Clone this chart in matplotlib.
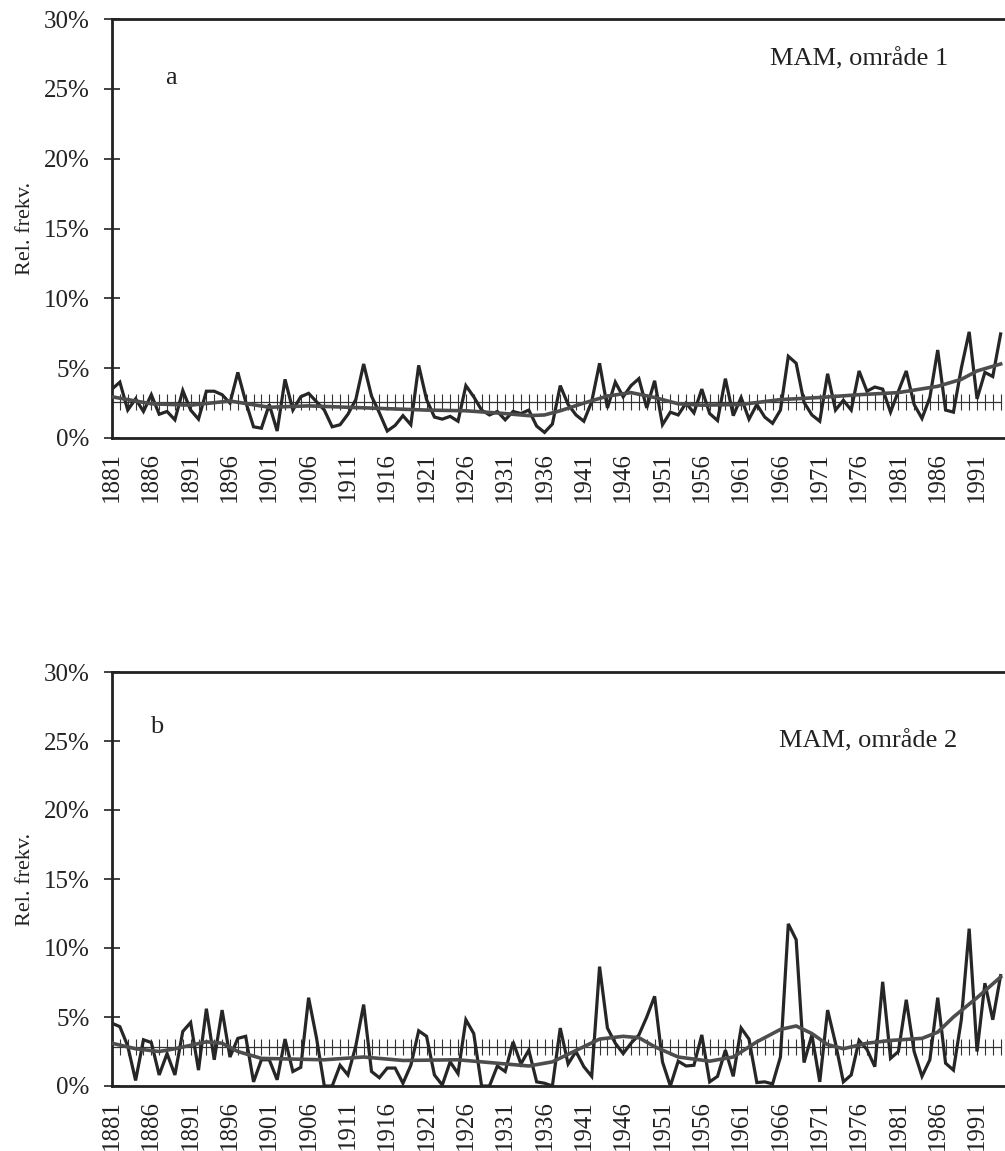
import matplotlib.pyplot as plt
import numpy as np

plt.rcParams['font.family'] = ['Liberation Serif', 'DejaVu Serif']

# years shown on the axis
years = list(range(1881, 1995))
tick_years = list(range(1881, 1992, 5))

# panel a: MAM, område 1 (relative frequency, %)
freq_a = [3.5, 4.0, 2.0, 2.8, 1.9, 3.1, 1.7, 1.9, 1.3, 3.4,
          2.0, 1.35, 3.35, 3.35, 3.1, 2.5, 4.7, 2.6, 0.8, 0.7,
          2.4, 0.5, 4.2, 2.0, 2.95, 3.2, 2.6, 2.0, 0.8, 0.95,
          1.7, 2.75, 5.3, 3.0, 1.8, 0.5, 0.9, 1.6, 0.95, 5.2,
          2.75, 1.5, 1.35, 1.55, 1.2, 3.75, 2.95, 2.0, 1.65, 1.9,
          1.3, 1.9, 1.75, 2.0, 0.85, 0.4, 1.0, 3.75, 2.4, 1.65,
          1.2, 2.6, 5.35, 2.15, 4.0, 2.95, 3.75, 4.25, 2.15, 4.1,
          0.95, 1.85, 1.65, 2.5, 1.8, 3.5, 1.75, 1.25, 4.25, 1.6,
          2.9, 1.35, 2.4, 1.5, 1.05, 2.0, 5.85, 5.35, 2.55, 1.65,
          1.2, 4.6, 2.0, 2.7, 2.0, 4.8, 3.35, 3.65, 3.5, 1.85,
          3.35, 4.8, 2.4, 1.4, 2.9, 6.3, 2.0, 1.85, 5.0, 7.6,
          2.8, 4.7, 4.4, 7.45]
trend_years_a = [1881, 1886, 1891, 1896, 1901, 1906, 1911, 1916, 1921, 1926,
                 1931, 1934, 1936, 1938, 1941, 1944, 1947, 1950, 1953, 1956,
                 1961, 1966, 1971, 1976, 1981, 1986, 1989, 1991, 1994]
trend_a = [2.95, 2.45, 2.35, 2.65, 2.2, 2.3, 2.2, 2.1, 2.0, 1.95,
           1.75, 1.6, 1.65, 1.95, 2.5, 3.0, 3.25, 2.9, 2.45, 2.35,
           2.4, 2.75, 2.9, 3.1, 3.25, 3.7, 4.2, 4.8, 5.3]
mean_a = 2.6

# panel b: MAM, område 2
freq_b = [4.55, 4.3, 2.9, 0.4, 3.35, 3.15, 0.8, 2.35, 0.8, 3.95,
          4.6, 1.15, 5.6, 1.9, 5.5, 2.1, 3.45, 3.6, 0.3, 1.9,
          1.9, 0.45, 3.4, 1.05, 1.35, 6.4, 3.5, 0.0, 0.0, 1.5,
          0.8, 2.9, 5.9, 1.05, 0.6, 1.3, 1.3, 0.2, 1.5, 4.0,
          3.6, 0.8, 0.07, 1.75, 0.9, 4.8, 3.8, 0.0, 0.0, 1.45,
          1.05, 3.2, 1.6, 2.6, 0.3, 0.2, 0.0, 4.2, 1.6, 2.5,
          1.4, 0.7, 8.65, 4.2, 3.1, 2.35, 3.1, 3.7, 5.0, 6.5,
          1.75, 0.0, 1.8, 1.45, 1.5, 3.7, 0.3, 0.7, 2.6, 0.7,
          4.2, 3.4, 0.25, 0.3, 0.15, 2.1, 11.75, 10.6, 1.7, 3.7,
          0.3, 5.5, 3.1, 0.3, 0.8, 3.3, 2.65, 1.4, 7.55, 2.0,
          2.5, 6.25, 2.5, 0.7, 1.9, 6.4, 1.65, 1.15, 4.8, 11.4,
          2.5, 7.45, 4.8, 8.0]
trend_years_b = [1881, 1884, 1887, 1889, 1893, 1895, 1897, 1900, 1904, 1908,
                 1913, 1918, 1925, 1930, 1934, 1937, 1941, 1943, 1946, 1948,
                 1950, 1953, 1957, 1960, 1963, 1966, 1968, 1970, 1972, 1974,
                 1977, 1980, 1984, 1986, 1988, 1991, 1994]
trend_b = [3.1, 2.7, 2.5, 2.7, 3.2, 3.1, 2.5, 2.0, 1.95, 1.9,
           2.1, 1.85, 1.9, 1.65, 1.45, 1.75, 2.85, 3.4, 3.6, 3.5,
           2.85, 2.1, 1.8, 2.1, 3.2, 4.1, 4.35, 3.8, 3.0, 2.7,
           3.1, 3.3, 3.45, 3.9, 5.0, 6.4, 7.9]
mean_b = 2.85

panels = [
    ('a', 'MAM, område 1', freq_a, trend_years_a, trend_a, mean_a),
    ('b', 'MAM, område 2', freq_b, trend_years_b, trend_b, mean_b),
]
# letter / title positions in axes fraction
letter_pos = [(0.06, 0.86), (0.043, 0.867)]
title_pos = [(0.936, 0.905), (0.947, 0.833)]

fig = plt.figure(figsize=(10.05, 11.51), dpi=100)
W, H = 1005, 1151
px_per_year = 7.864
x_right = 1881 + (W - 112) / px_per_year

# axes boxes in pixels: (top of plot, bottom of plot)
boxes = [(19, 438), (672, 1086)]

for i, ((letter, title, freq, tyears, trend, mean), (top, bot)) in enumerate(zip(panels, boxes)):
    ax = fig.add_axes([112 / W, 1 - bot / H, 1 - 112 / W, (bot - top) / H])

    ax.plot(years, freq, color='#262626', lw=2.3, solid_joinstyle='miter', zorder=3)
    ax.plot(tyears, trend, color='#4d4d4d', lw=2.6, zorder=4)
    # mean line with a tick at every year
    ax.plot(years, [mean] * len(years), color='#333333', lw=0.9,
            marker='|', markersize=12, markeredgewidth=0.8, zorder=2)

    ax.set_xlim(1881, x_right)
    ax.set_ylim(0, 30)
    ax.set_yticks(range(0, 31, 5))
    ax.set_yticklabels([f'{v}%' for v in range(0, 31, 5)])
    ax.set_xticks(tick_years)
    ax.set_xticklabels([str(y) for y in tick_years], rotation=90)

    ax.tick_params(axis='y', direction='inout', length=12, width=1.2,
                   labelsize=18, pad=10, colors='#222222')
    ax.tick_params(axis='x', length=0, labelsize=18, pad=10, colors='#222222')

    for side in ['left', 'bottom', 'top']:
        ax.spines[side].set_linewidth(2.0)
        ax.spines[side].set_color('#222222')
    ax.spines['right'].set_visible(False)

    ax.text(*letter_pos[i], letter, transform=ax.transAxes, fontsize=19,
            color='#222222', va='center', ha='left')
    ax.text(*title_pos[i], title, transform=ax.transAxes, fontsize=19,
            color='#222222', va='center', ha='right')

    fig.text(25 / W, 1 - (top + bot) / 2 / H, 'Rel. frekv.', rotation=90,
             fontsize=16, color='#222222', va='center', ha='center')

fig.savefig('out.png', dpi=100)
